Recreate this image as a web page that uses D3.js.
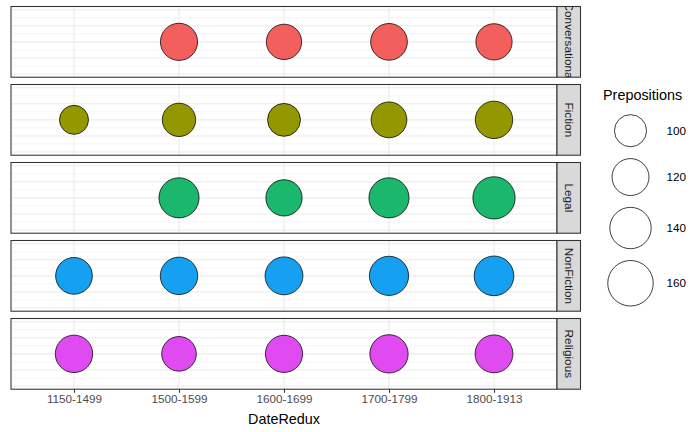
<!DOCTYPE html>
<html>
<head>
<meta charset="utf-8">
<script src="https://cdn.jsdelivr.net/npm/d3@7"></script>
<style>
  html, body { margin: 0; padding: 0; background: #fff; }
  svg { display: block; font-family: "Liberation Sans", Arial, Helvetica, sans-serif; }
</style>
</head>
<body>
<svg id="chart" width="700" height="432"></svg>
<script>
// ---- Data ----
const genres = ["Conversational", "Fiction", "Legal", "NonFiction", "Religious"];
const dates = ["1150-1499", "1500-1599", "1600-1699", "1700-1799", "1800-1913"];
const conversational = [null, 121, 113, 119, 117];
const fiction        = [88, 105, 103, 115, 122];
const legal          = [null, 134, 117, 134, 144];
const nonFiction     = [119, 122, 124, 130, 132];
const religious      = [122, 110, 121, 126, 124];
const seriesValues = [conversational, fiction, legal, nonFiction, religious];
const genreColors = ["#F35F5C", "#939700", "#1BB76C", "#16A0F1", "#DF4BF0"];
const sizeBreaks = [100, 120, 140, 160];
const yBreaks = [0, 0.25, 0.5, 0.75, 1];
const yMinor = [0.125, 0.375, 0.625, 0.875];
const pointLevel = 0.5;

// ---- Layout ----
const svg = d3.select("#chart");
const panelLeft = 11, panelRight = 557;
const panelTop0 = 6.5, panelH = 70.7, panelGap = 7.3;
const stripW = 23.5;
const gridColor = "#EBEBEB";
const borderColor = "#333333";
const fontFam = "Liberation Sans, Arial, Helvetica, sans-serif";

const x = d3.scalePoint().domain(dates).range([panelLeft, panelRight]).padding(0.6);
const r = d3.scaleSqrt().domain([12, 160]).range([0, 23.15]);

const defs = svg.append("defs");

genres.forEach((g, i) => {
  const top = panelTop0 + i * (panelH + panelGap);
  const bottom = top + panelH;
  const y = d3.scaleLinear().domain([-0.05, 1.05]).range([bottom, top]);
  const pg = svg.append("g");

  pg.append("rect").attr("x", panelLeft).attr("y", top)
    .attr("width", panelRight - panelLeft).attr("height", panelH).attr("fill", "#fff");

  pg.selectAll(".ymin").data(yMinor).join("line")
    .attr("x1", panelLeft).attr("x2", panelRight)
    .attr("y1", d => y(d)).attr("y2", d => y(d))
    .attr("stroke", gridColor).attr("stroke-width", 0.55);
  pg.selectAll(".ymaj").data(yBreaks).join("line")
    .attr("x1", panelLeft).attr("x2", panelRight)
    .attr("y1", d => y(d)).attr("y2", d => y(d))
    .attr("stroke", gridColor).attr("stroke-width", 1.07);
  pg.selectAll(".xmaj").data(dates).join("line")
    .attr("x1", d => x(d)).attr("x2", d => x(d))
    .attr("y1", top).attr("y2", bottom)
    .attr("stroke", gridColor).attr("stroke-width", 1.07);

  const pts = dates.map((d, j) => ({ date: d, v: seriesValues[i][j] })).filter(p => p.v != null);
  pg.selectAll("circle").data(pts).join("circle")
    .attr("cx", p => x(p.date)).attr("cy", y(pointLevel))
    .attr("r", p => r(p.v) - 0.4)
    .attr("fill", genreColors[i]).attr("stroke", "#000").attr("stroke-width", 0.75);

  pg.append("rect").attr("x", panelLeft).attr("y", top)
    .attr("width", panelRight - panelLeft).attr("height", panelH)
    .attr("fill", "none").attr("stroke", borderColor).attr("stroke-width", 1.07);

  const clipId = "clip" + i;
  defs.append("clipPath").attr("id", clipId).append("rect")
    .attr("x", panelRight).attr("y", top).attr("width", stripW).attr("height", panelH);
  pg.append("rect").attr("x", panelRight).attr("y", top)
    .attr("width", stripW).attr("height", panelH)
    .attr("fill", "#D9D9D9").attr("stroke", borderColor).attr("stroke-width", 1.07);
  const cx = panelRight + stripW / 2, cy = top + panelH / 2;
  pg.append("g").attr("clip-path", `url(#${clipId})`)
    .append("text")
    .attr("transform", `translate(${cx},${cy}) rotate(90)`)
    .attr("text-anchor", "middle").attr("dy", "0.35em")
    .attr("font-size", 11.8).attr("fill", "#1A1A1A")
    .text(g);
});

// ---- x axis ----
const lastBottom = panelTop0 + (genres.length - 1) * (panelH + panelGap) + panelH;
const axisG = svg.append("g").attr("transform", `translate(0,${lastBottom})`)
  .call(d3.axisBottom(x).tickSize(3.6).tickPadding(2.2));
axisG.attr("font-family", fontFam).attr("font-size", 11.7);
axisG.select(".domain").remove();
axisG.selectAll(".tick line").attr("stroke", borderColor).attr("stroke-width", 1.07);
axisG.selectAll(".tick text").attr("fill", "#4D4D4D");

svg.append("text").attr("x", (panelLeft + panelRight) / 2).attr("y", 423.5)
  .attr("text-anchor", "middle").attr("font-size", 14.4).attr("fill", "#000")
  .text("DateRedux");

// ---- size legend ----
const leg = svg.append("g");
leg.append("text").attr("x", 603).attr("y", 99.5).attr("font-size", 14.4)
  .attr("fill", "#000").text("Prepositions");
let keyTop = 130.7 - (2 * r(sizeBreaks[0]) + 11) / 2;
sizeBreaks.forEach(b => {
  const h = 2 * r(b) + 11;
  const cy = keyTop + h / 2;
  leg.append("circle").attr("cx", 630.5).attr("cy", cy).attr("r", r(b) - 0.4)
    .attr("fill", "#fff").attr("stroke", "#000").attr("stroke-width", 0.75);
  leg.append("text").attr("x", 666.5).attr("y", cy).attr("dy", "0.36em")
    .attr("font-size", 11.7).attr("fill", "#000").text(b);
  keyTop += h;
});
</script>
</body>
</html>
